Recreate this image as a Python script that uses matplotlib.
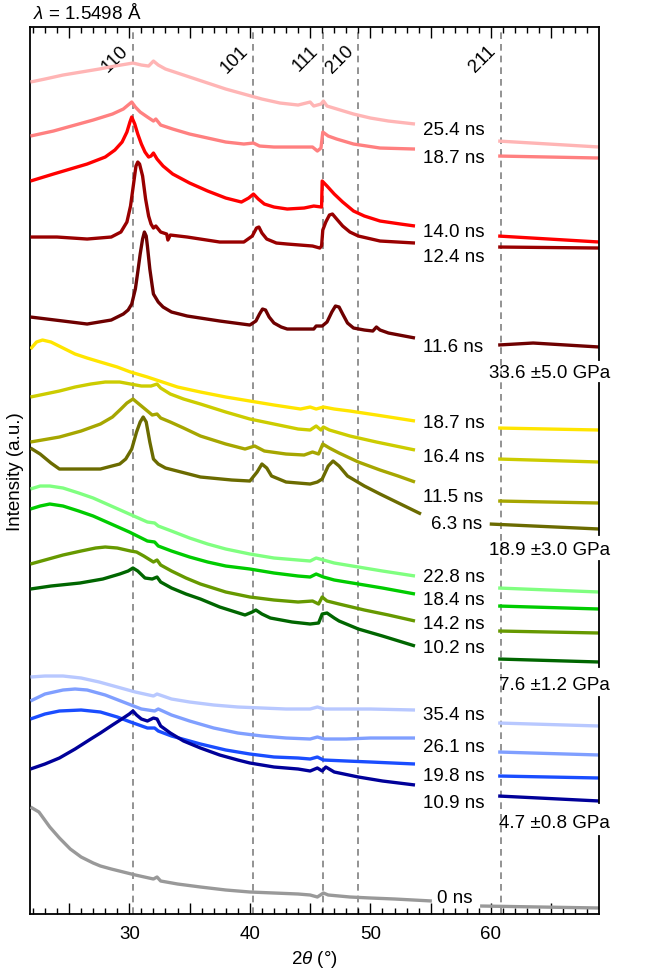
import matplotlib
matplotlib.use("Agg")
import matplotlib.pyplot as plt
from matplotlib.ticker import MultipleLocator, FuncFormatter

plt.rcParams['font.family'] = ['Liberation Sans', 'DejaVu Sans']
plt.rcParams['mathtext.fontset'] = 'custom'
plt.rcParams['mathtext.it'] = 'Liberation Sans:italic'
plt.rcParams['mathtext.rm'] = 'Liberation Sans'

# peak positions (2theta, deg) and their hkl
peak_pos = [30.3, 40.3, 46.1, 49.0, 60.8]
peak_hkl = ['110', '101', '111', '210', '211']

# each trace: main part (22-54 deg) and the short tail (60-69 deg), offset intensity in a.u.
x_254 = [21.8, 23.0, 24.5, 26.0, 27.5, 28.8, 29.8, 30.3, 31.0, 31.6, 32.0, 32.4, 33.0, 34.0, 35.0, 36.5, 38.0, 39.5, 41.0, 42.5, 44.0, 45.0, 45.3, 45.9, 46.1, 46.4, 47.5, 48.6, 50.0, 51.5, 53.7]
y_254 = [832, 835, 839, 842, 845, 848, 850, 851, 849, 848, 853, 849, 845, 841, 837, 831, 825, 820, 815, 811, 809, 812, 808, 810, 813, 808, 804, 800, 796, 793, 790]
xr_254 = [60.6, 69.0]
yr_254 = [773, 767]

x_187r = [21.8, 23.7, 25.5, 27.0, 28.6, 29.5, 29.9, 30.2, 30.5, 30.9, 31.5, 32.0, 32.2, 32.6, 33.6, 35.0, 36.5, 38.0, 39.5, 40.3, 40.8, 42.0, 43.5, 45.2, 45.6, 45.9, 46.05, 46.5, 47.2, 48.6, 50.8, 53.7]
y_187r = [778, 783, 789, 794, 800, 805, 809, 812, 807, 802, 797, 793, 795, 789, 785, 780, 776, 772, 770, 771, 768, 767, 767, 767, 763, 766, 782, 778, 775, 770, 766, 765]
xr_187r = [60.6, 69.0]
yr_187r = [758, 756]

x_140 = [21.8, 23.7, 26.5, 28.0, 28.8, 29.4, 29.8, 30.05, 30.2, 30.45, 30.7, 31.0, 31.3, 31.6, 31.8, 32.0, 32.3, 32.8, 33.6, 35.0, 36.5, 38.0, 39.3, 39.9, 40.3, 40.7, 41.2, 42.0, 43.1, 44.5, 45.3, 45.95, 46.0, 46.4, 47.0, 47.7, 48.6, 49.5, 50.8, 52.5, 53.7]
y_140 = [733, 740, 750, 757, 764, 772, 782, 792, 797, 790, 780, 770, 762, 757, 758, 761, 755, 748, 740, 731, 723, 716, 712, 716, 720, 715, 710, 707, 705, 706, 708, 707, 733, 728, 720, 712, 703, 698, 693, 690, 688]
xr_140 = [60.6, 69.0]
yr_140 = [678, 672]

x_124 = [21.8, 24.0, 26.5, 28.5, 29.3, 29.8, 30.1, 30.35, 30.55, 30.7, 30.85, 31.1, 31.35, 31.6, 31.8, 32.0, 32.2, 32.6, 33.1, 33.2, 33.4, 34.8, 37.5, 39.5, 40.2, 40.55, 40.75, 41.0, 41.4, 42.2, 43.1, 45.2, 45.8, 45.95, 46.05, 46.3, 46.6, 46.85, 47.2, 47.7, 48.3, 49.0, 50.8, 53.7]
y_124 = [677, 677, 675, 677, 682, 692, 708, 730, 748, 752, 750, 738, 715, 698, 690, 686, 688, 682, 680, 674, 679, 677, 672, 672, 678, 686, 687, 681, 675, 671, 670, 668, 666, 668, 684, 692, 699, 700, 695, 688, 682, 678, 673, 671]
xr_124 = [60.6, 69.0]
yr_124 = [667, 666]

x_116 = [21.8, 24.5, 26.5, 27.5, 28.5, 29.5, 29.9, 30.2, 30.5, 30.7, 30.9, 31.1, 31.25, 31.4, 31.5, 31.7, 31.9, 32.0, 32.4, 32.8, 33.5, 34.8, 37.5, 40.0, 40.5, 40.8, 41.05, 41.3, 41.6, 42.0, 42.6, 43.1, 45.3, 45.5, 46.0, 46.4, 46.8, 47.1, 47.4, 47.7, 48.1, 48.6, 49.5, 50.2, 50.5, 50.8, 51.5, 53.7]
y_116 = [597, 593, 590, 592, 594, 600, 604, 610, 625, 642, 660, 675, 682, 678, 668, 645, 628, 620, 612, 607, 602, 598, 593, 589, 593, 600, 605, 604, 597, 591, 587, 585, 585, 588, 588, 592, 602, 608, 607, 600, 591, 586, 584, 583, 587, 584, 581, 576]
xr_116 = [60.6, 63.5, 69.0]
yr_116 = [569, 571, 567]

x_187y = [21.8, 22.3, 22.8, 23.5, 24.5, 25.5, 26.5, 27.6, 29.0, 30.1, 31.5, 32.5, 34.0, 35.9, 38.0, 40.0, 42.0, 44.2, 45.0, 45.5, 46.1, 47.0, 48.3, 50.5, 53.7]
y_187y = [565, 572, 574, 572, 566, 560, 556, 552, 547, 542, 537, 533, 527, 522, 517, 513, 509, 505, 507, 505, 507, 505, 503, 499, 493]
xr_187y = [60.6, 69.0]
yr_187y = [486, 484]

x_164 = [21.8, 23.0, 24.2, 25.5, 26.8, 28.0, 29.2, 30.1, 31.0, 31.8, 32.3, 32.6, 33.4, 34.5, 35.9, 38.0, 40.0, 42.0, 44.0, 45.0, 45.5, 45.9, 46.1, 46.6, 48.3, 50.5, 53.7]
y_164 = [517, 520, 523, 527, 530, 532, 532, 530, 528, 528, 530, 526, 520, 515, 510, 502, 495, 490, 485, 484, 488, 484, 487, 484, 478, 472, 464]
xr_164 = [60.6, 69.0]
yr_164 = [455, 452]

x_115 = [21.8, 24.2, 26.0, 27.6, 28.6, 29.3, 29.8, 30.3, 30.8, 31.3, 31.9, 32.3, 32.6, 33.4, 34.5, 35.9, 38.0, 39.6, 40.4, 41.2, 43.0, 44.5, 45.2, 45.7, 46.05, 46.6, 47.4, 49.0, 50.8, 52.3, 53.7]
y_115 = [472, 477, 483, 490, 497, 505, 511, 515, 510, 505, 499, 500, 496, 492, 486, 478, 470, 465, 468, 463, 460, 459, 462, 460, 470, 466, 461, 452, 444, 438, 432]
xr_115 = [60.6, 69.0]
yr_115 = [413, 411]

x_63 = [21.8, 22.6, 23.5, 24.2, 26.0, 27.6, 29.2, 29.7, 30.2, 30.6, 30.9, 31.15, 31.4, 31.7, 32.0, 32.4, 33.0, 35.9, 38.5, 40.0, 40.6, 41.0, 41.4, 41.8, 43.0, 45.0, 45.6, 46.0, 46.5, 46.9, 47.4, 48.1, 49.5, 50.8, 52.5, 54.2]
y_63 = [466, 460, 451, 445, 445, 445, 450, 455, 465, 482, 492, 497, 492, 472, 455, 450, 446, 437, 434, 433, 442, 450, 446, 438, 432, 430, 432, 435, 448, 453, 448, 438, 428, 420, 410, 400]
xr_63 = [59.9, 69.0]
yr_63 = [390, 385]

x_228 = [21.8, 22.6, 23.4, 24.5, 25.8, 27.0, 28.5, 30.0, 31.5, 32.1, 32.4, 33.5, 35.0, 36.5, 38.0, 40.0, 42.0, 44.0, 45.0, 45.5, 46.1, 47.0, 49.0, 51.0, 53.7]
y_228 = [425, 428, 428, 426, 421, 416, 408, 400, 392, 391, 388, 383, 376, 370, 365, 360, 356, 354, 353, 356, 354, 351, 347, 343, 338]
xr_228 = [60.6, 69.0]
yr_228 = [326, 322]

x_184 = [21.8, 22.6, 23.4, 24.5, 25.8, 27.0, 28.5, 30.0, 31.5, 32.1, 32.4, 33.5, 35.0, 36.5, 38.0, 40.0, 42.0, 44.0, 45.0, 45.5, 46.1, 47.0, 49.0, 51.0, 53.7]
y_184 = [405, 408, 410, 408, 403, 398, 390, 382, 373, 372, 368, 363, 357, 352, 348, 345, 341, 338, 337, 340, 337, 334, 330, 326, 320]
xr_184 = [60.6, 69.0]
yr_184 = [308, 305]

x_142 = [21.8, 23.0, 24.5, 26.0, 27.2, 28.0, 29.0, 30.1, 30.6, 31.2, 32.0, 32.3, 32.6, 33.5, 34.7, 35.9, 38.0, 40.0, 42.0, 44.0, 45.2, 45.7, 46.0, 46.4, 47.4, 49.5, 51.5, 53.7]
y_142 = [350, 354, 359, 363, 366, 367, 366, 363, 362, 358, 352, 354, 349, 343, 336, 330, 322, 317, 314, 312, 313, 310, 317, 313, 310, 304, 299, 293]
xr_142 = [60.6, 69.0]
yr_142 = [283, 281]

x_102 = [21.8, 23.5, 25.9, 27.8, 29.2, 29.9, 30.3, 30.7, 31.3, 31.9, 32.3, 32.6, 33.5, 34.7, 35.9, 37.5, 39.6, 40.2, 40.5, 41.0, 41.7, 43.5, 45.0, 45.7, 46.0, 46.4, 47.0, 47.4, 49.0, 51.0, 53.7]
y_102 = [325, 328, 331, 335, 340, 343, 346, 343, 336, 335, 337, 332, 326, 320, 315, 307, 299, 302, 304, 300, 296, 292, 290, 291, 300, 301, 296, 293, 285, 278, 268]
xr_102 = [60.6, 69.0]
yr_102 = [255, 252]

x_354 = [21.8, 23.0, 24.5, 26.0, 27.5, 29.0, 30.5, 32.0, 32.3, 33.5, 35.0, 37.0, 39.0, 41.0, 43.0, 45.0, 45.6, 46.2, 48.0, 50.0, 53.7]
y_354 = [237, 238, 238, 236, 232, 227, 222, 218, 220, 215, 212, 209, 207, 206, 205, 205, 207, 205, 205, 205, 204]
xr_354 = [60.6, 69.0]
yr_354 = [191, 188]

x_261 = [21.8, 23.0, 24.5, 25.5, 26.5, 28.0, 29.5, 31.0, 32.1, 32.4, 33.5, 35.0, 37.0, 39.0, 41.0, 43.0, 45.0, 45.6, 46.2, 48.0, 50.0, 53.7]
y_261 = [213, 220, 224, 225, 224, 219, 212, 205, 203, 205, 199, 193, 186, 181, 178, 176, 175, 177, 175, 175, 176, 176]
xr_261 = [60.6, 69.0]
yr_261 = [162, 159]

x_198 = [21.8, 23.0, 24.2, 26.0, 27.6, 29.0, 30.1, 31.5, 32.1, 32.4, 33.5, 35.9, 38.0, 40.0, 42.0, 44.0, 45.0, 45.6, 46.1, 48.0, 50.0, 53.7]
y_198 = [195, 200, 203, 204, 202, 197, 192, 186, 186, 183, 178, 170, 164, 160, 157, 156, 155, 157, 154, 153, 152, 150]
xr_198 = [60.6, 69.0]
yr_198 = [138, 136]

x_109 = [21.8, 23.0, 24.2, 25.5, 26.8, 27.6, 28.6, 29.5, 30.0, 30.3, 30.6, 31.0, 31.5, 32.0, 32.3, 32.6, 33.4, 34.5, 35.9, 37.5, 39.0, 40.0, 42.0, 44.0, 45.0, 45.6, 46.0, 46.3, 47.0, 49.0, 51.0, 53.7]
y_109 = [145, 150, 156, 165, 175, 181, 189, 196, 200, 203, 199, 195, 193, 196, 195, 188, 181, 173, 166, 159, 154, 151, 147, 145, 143, 146, 143, 147, 142, 137, 133, 129]
xr_109 = [60.6, 69.0]
yr_109 = [118, 113]

x_0 = [21.8, 22.5, 23.4, 24.2, 25.1, 26.0, 27.0, 27.6, 28.5, 29.5, 30.5, 32.0, 32.3, 32.6, 34.0, 35.9, 38.0, 40.0, 42.0, 44.0, 45.0, 45.6, 46.1, 46.5, 48.3, 50.0, 52.0, 55.1]
y_0 = [107, 102, 87, 76, 65, 57, 51, 48, 45, 42, 39, 35, 37, 33, 30, 27, 24, 22, 21, 20, 19, 17, 21, 19, 17, 16, 15, 13]
xr_0 = [59.1, 69.0]
yr_0 = [8, 6]

times = ['25.4 ns', '18.7 ns', '14.0 ns', '12.4 ns', '11.6 ns',
         '18.7 ns', '16.4 ns', '11.5 ns', '6.3 ns',
         '22.8 ns', '18.4 ns', '14.2 ns', '10.2 ns',
         '35.4 ns', '26.1 ns', '19.8 ns', '10.9 ns', '0 ns']
label_y = [785, 757, 683, 658, 568, 492, 458, 418, 391, 338, 315, 291, 267, 200, 168, 139, 112, 17]
label_x = [54.4] * 8 + [55.0] + [54.4] * 8 + [55.5]

pressures = ['33.6 \u00b15.0 GPa', '18.9 \u00b13.0 GPa', '7.6 \u00b11.2 GPa', '4.7 \u00b10.8 GPa']
pressure_y = [542, 365, 230, 92]
# right axis pieces between the pressure labels
spine_pieces = [(554, 887), (379, 531), (247, 353), (111, 217), (0, 78)]

colors = ['#ffb5b5', '#ff8080', '#ff0000', '#990000', '#6e0000',
          '#ffe500', '#cccc00', '#a6a600', '#6b6b00',
          '#80ff80', '#00cc00', '#669900', '#006600',
          '#b8c8ff', '#809fff', '#1a4dff', '#000099', '#999999']

traces = [(x_254, y_254, xr_254, yr_254), (x_187r, y_187r, xr_187r, yr_187r),
          (x_140, y_140, xr_140, yr_140), (x_124, y_124, xr_124, yr_124),
          (x_116, y_116, xr_116, yr_116), (x_187y, y_187y, xr_187y, yr_187y),
          (x_164, y_164, xr_164, yr_164), (x_115, y_115, xr_115, yr_115),
          (x_63, y_63, xr_63, yr_63), (x_228, y_228, xr_228, yr_228),
          (x_184, y_184, xr_184, yr_184), (x_142, y_142, xr_142, yr_142),
          (x_102, y_102, xr_102, yr_102), (x_354, y_354, xr_354, yr_354),
          (x_261, y_261, xr_261, yr_261), (x_198, y_198, xr_198, yr_198),
          (x_109, y_109, xr_109, yr_109), (x_0, y_0, xr_0, yr_0)]

fig = plt.figure(figsize=(6.48, 9.70), dpi=100)
ax = fig.add_axes([0.0463, 0.0567, 0.878, 0.9144])
xmin, xmax = 21.76, 68.96
ymax = 887
ax.set_xlim(xmin, xmax)
ax.set_ylim(0, ymax)

for p in peak_pos:
    ax.axvline(p, color='#808080', lw=1.2, ls=(0, (4, 3)), zorder=1)
for p, h in zip(peak_pos, peak_hkl):
    ax.text(p - 0.15, 872, h, rotation=45, ha='right', va='top', fontsize=13.5)

for (x, y, xr, yr), c in zip(traces, colors):
    ax.plot(x, y, color=c, lw=2.4, solid_joinstyle='round', solid_capstyle='butt', zorder=3)
    ax.plot(xr, yr, color=c, lw=2.4, solid_capstyle='butt', zorder=3)

for t, lx, ly in zip(times, label_x, label_y):
    ax.text(lx, ly, t, ha='left', va='center', fontsize=13.5)

for t, py in zip(pressures, pressure_y):
    ax.text(69.9, py, t, ha='right', va='center', fontsize=13.5, clip_on=False)

ax.spines['right'].set_visible(False)
for a, b in spine_pieces:
    ax.plot([xmax, xmax], [a, b], color='black', lw=1.3, clip_on=False, zorder=4)
for s in ['left', 'top', 'bottom']:
    ax.spines[s].set_linewidth(1.3)

ax.set_yticks([])
ax.xaxis.set_major_locator(MultipleLocator(5))
ax.xaxis.set_minor_locator(MultipleLocator(1))
ax.xaxis.set_major_formatter(FuncFormatter(lambda v, pos: '%d' % v if v % 10 == 0 else ''))
ax.tick_params(axis='x', which='both', direction='in', top=True, bottom=True, width=1.0, labelsize=13.5, pad=8)
ax.tick_params(axis='x', which='major', length=8)
ax.tick_params(axis='x', which='minor', length=4)
for tk in ax.xaxis.get_major_ticks():
    if tk.get_loc() % 10 != 0:
        tk.tick1line.set_markersize(5.5)
        tk.tick2line.set_markersize(5.5)

ax.set_xlabel(r'2$\it{\theta}$ (°)', fontsize=13.5, labelpad=4)
ax.set_ylabel('Intensity (a.u.)', fontsize=13.5, labelpad=4)
fig.text(0.051, 0.987, r'$\it{\lambda}$ = 1.5498 Å', fontsize=13.5, ha='left', va='center')

fig.savefig('out.png', dpi=100)
